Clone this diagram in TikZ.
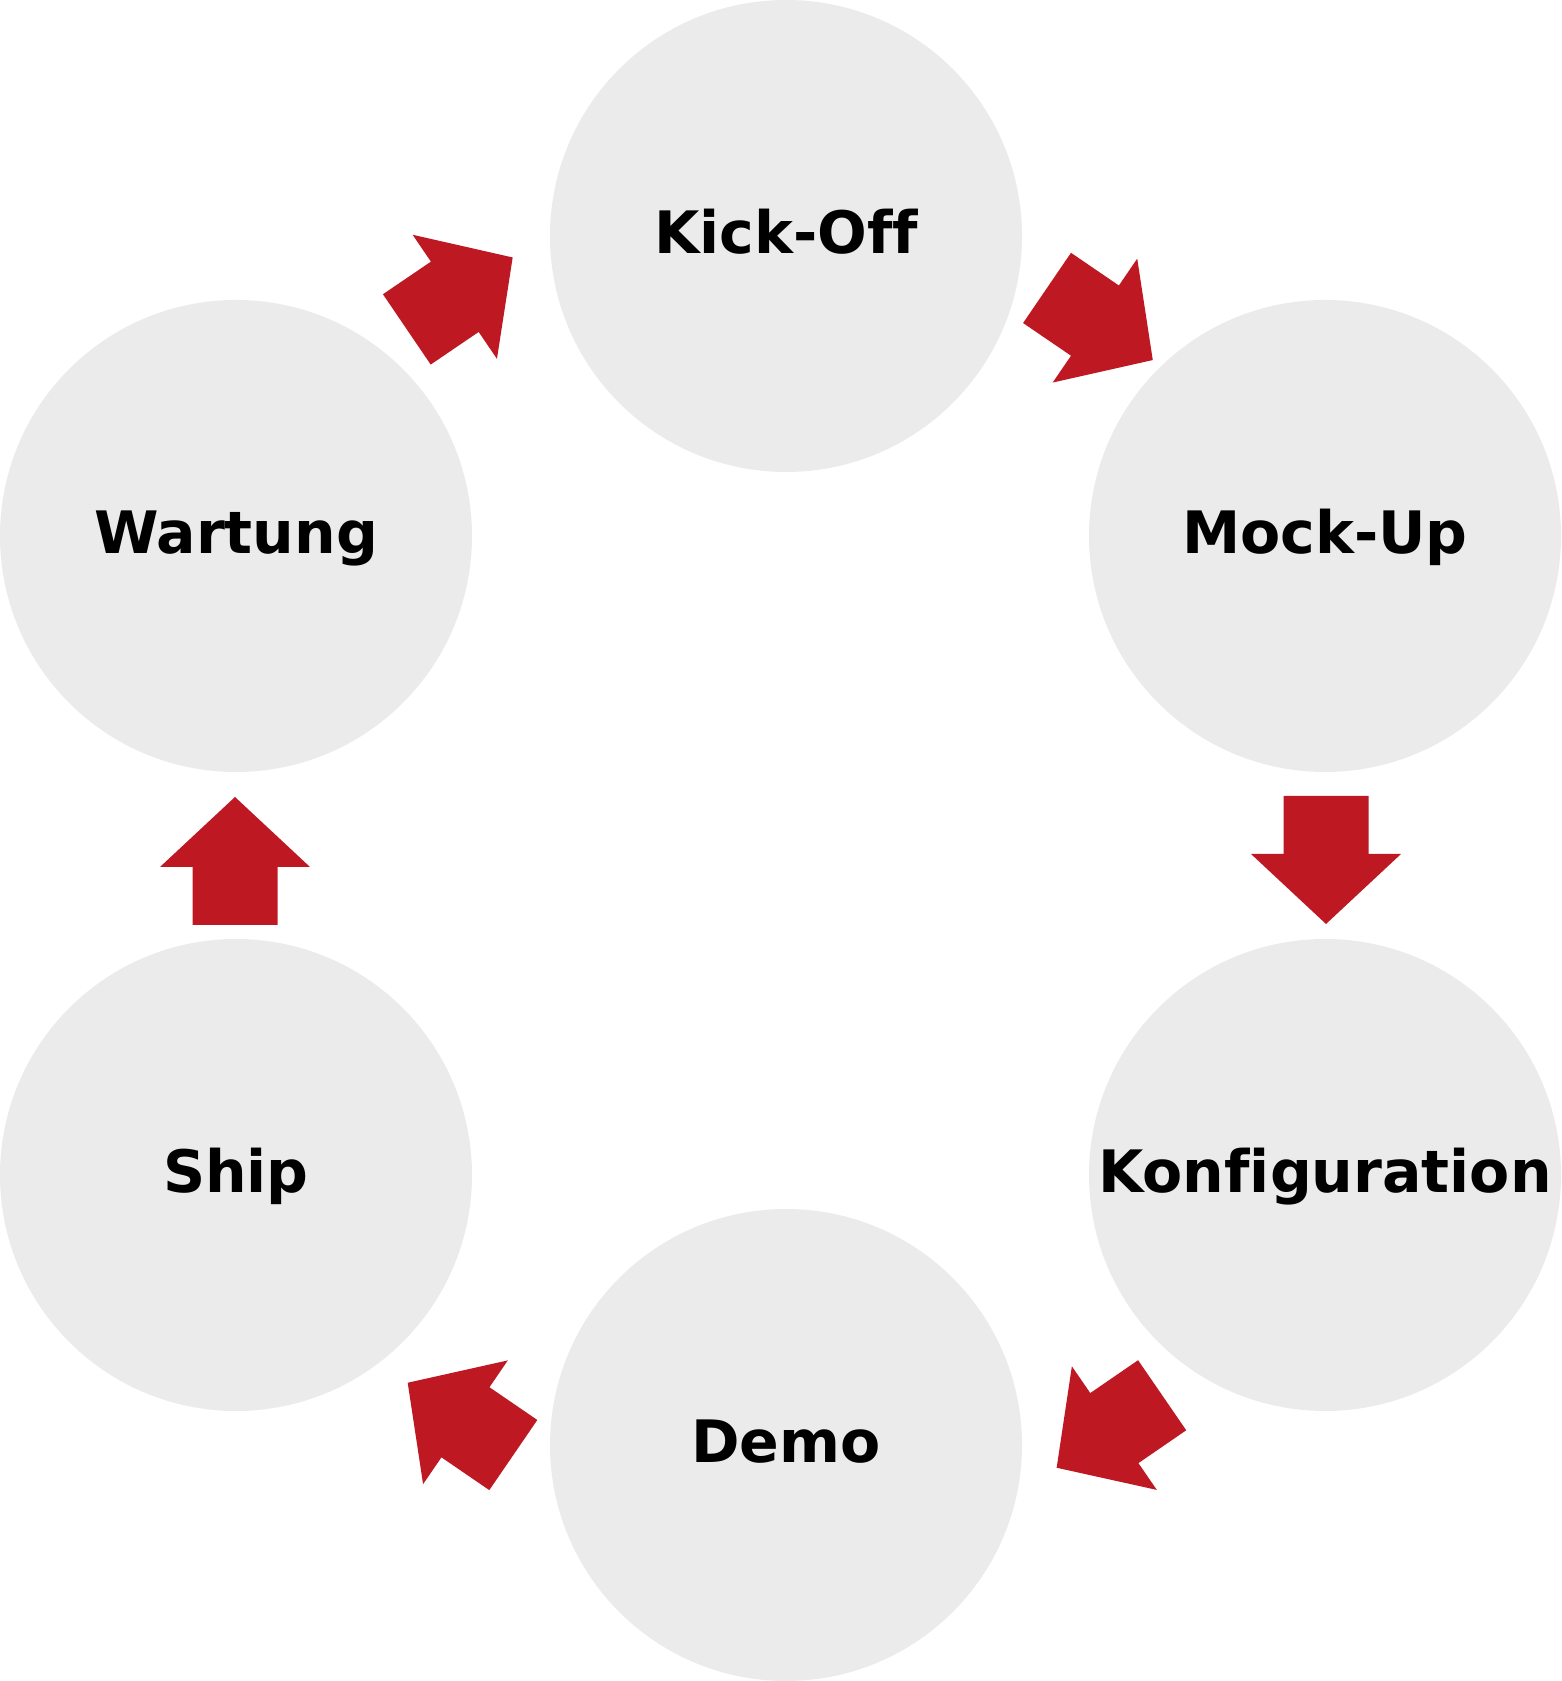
\documentclass[tikz,border=0pt]{standalone}
\usepackage{fontspec}
\newfontfamily\phasefont[Ligatures=NoCommon]{DejaVu Sans}
\definecolor{phasegrey}{HTML}{EBEBEB}
\definecolor{arrowred}{HTML}{BE1823}
\tikzset{
  phase/.style={circle, fill=phasegrey, minimum size=472pt, inner sep=0pt,
    font=\phasefont\bfseries\fontsize{58.5}{58.5}\selectfont,
    text height=40pt, text depth=4pt},
  blockarrow/.pic={
    \fill[arrowred] (-64,-42.5) -- (-6,-42.5) -- (-6,-75) -- (64,0)
      -- (-6,75) -- (-6,42.5) -- (-64,42.5) -- cycle;
  }
}
\begin{document}
\begin{tikzpicture}[x=1pt,y=1pt]
\useasboundingbox (0,0) rectangle (1561,1681);
\node[phase] (kick) at (786,1445) {Kick-Off};
\node[phase] (mock) at (1325,1145) {Mock-Up};
\node[phase] (konf) at (1325,506) {Konfiguration};
\node[phase] (demo) at (786,236) {Demo};
\node[phase] (ship) at (236,506) {Ship};
\node[phase] (wart) at (236,1145) {Wartung};
\pic[rotate=34.2] at (459.75,1387.55) {blockarrow};
\pic[rotate=-34.3] at (1099.9,1357) {blockarrow};
\pic[rotate=-90] at (1326,821) {blockarrow};
\pic[rotate=214.5] at (1109.4,249.5) {blockarrow};
\pic[rotate=145.6] at (460.5,262.1) {blockarrow};
\pic[rotate=90] at (235,820) {blockarrow};
\end{tikzpicture}
\end{document}
